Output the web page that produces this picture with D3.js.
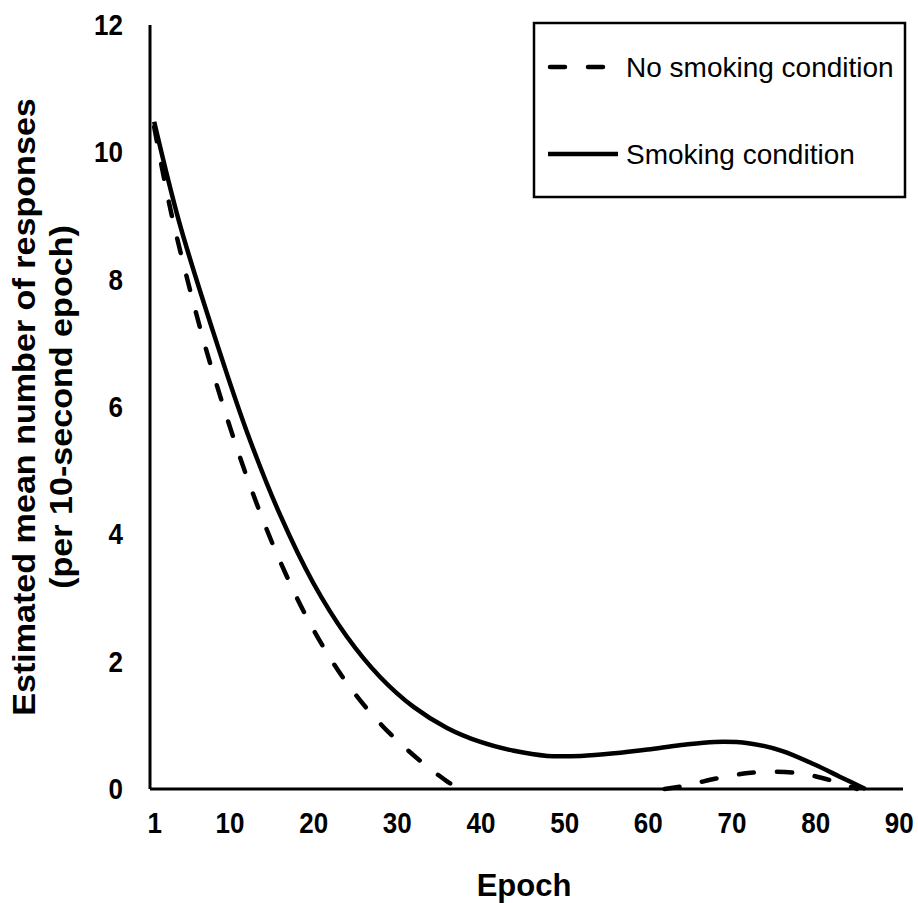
<!DOCTYPE html>
<html lang="en">
<head>
<meta charset="UTF-8">
<title>Epoch chart</title>
<script src="https://cdn.jsdelivr.net/npm/d3@7"></script>
<style>
body{margin:0;background:#fff}
text{font-family:"Liberation Sans",Arial,sans-serif;fill:#000}
</style>
</head>
<body>
<div id="grafica"></div>
<script>
// values
xTicks=[1,10,20,30,40,50,60,70,80,90]
yTicks=[0,2,4,6,8,10,12]

smokeEpoch=[1,4,8,12,16,20,24,28,32,36,40,44,48,52,56,60,64,68,72,76,80,83,86]
smokeValue=[10.48,8.9,7.2,5.64,4.32,3.24,2.4,1.76,1.29,0.96,0.74,0.6,0.52,0.52,0.56,0.62,0.69,0.74,0.72,0.6,0.38,0.19,0]

// no smoking curve is below zero between ~37 and ~62, so two pieces
noSmokeEpochA=[1,3,6,8,12,16,20,24,28,32,36,37.5]
noSmokeValueA=[10.4,9.07,7.48,6.55,4.93,3.59,2.51,1.67,1.03,0.53,0.12,0]
noSmokeEpochB=[62,64,66,68,70,72,75,78,80,82,84,85]
noSmokeValueB=[0,0.04,0.1,0.16,0.21,0.25,0.27,0.25,0.2,0.13,0.05,0]

legendLabels=['No smoking condition','Smoking condition']

ancho=918
alto=903
svg=d3.select('#grafica')
	.append('svg')
	.attr('width',ancho)
	.attr('height',alto)

x=d3.scaleLinear().domain([0.5,90.5]).range([150,903])
y=d3.scaleLinear().domain([0,12]).range([789,25])

function pares(ex,vals) {
	return ex.map(function(e,i){return [e,vals[i]]})
}

line=d3.line()
	.x(function(d){return x(d[0])})
	.y(function(d){return y(d[1])})
	.curve(d3.curveCatmullRom.alpha(0.5))

// axes, no tick marks
xAxis=d3.axisBottom(x).tickValues(xTicks).tickSize(0).tickPadding(0)
yAxis=d3.axisLeft(y).tickValues(yTicks).tickSize(0).tickPadding(0)

gx=svg.append('g').attr('transform','translate(0,'+y(0)+')').call(xAxis)
gx.select('.domain').attr('d','M'+x(0.5)+',0H'+x(90.5)).attr('stroke','#000').attr('stroke-width',3)
gx.selectAll('text')
	.attr('y',0)
	.attr('dy',null)
	.attr('transform','translate(0,44) scale(1,1.15)')
	.attr('font-size',26)
	.attr('font-weight','bold')
	.attr('font-family','Liberation Sans, Arial, sans-serif')

gy=svg.append('g').attr('transform','translate('+x(0.5)+',0)').call(yAxis)
gy.select('.domain').attr('d','M0,'+y(12)+'V'+y(0)).attr('stroke','#000').attr('stroke-width',3)
gy.selectAll('text')
	.attr('x',-27)
	.attr('dy','0.32em')
	.attr('transform','scale(1,1.15)')
	.attr('font-size',26)
	.attr('font-weight','bold')
	.attr('font-family','Liberation Sans, Arial, sans-serif')

// curves
svg.append('path')
	.datum(pares(smokeEpoch,smokeValue))
	.attr('d',line)
	.attr('fill','none')
	.attr('stroke','#000')
	.attr('stroke-width',4.5)

;[pares(noSmokeEpochA,noSmokeValueA),pares(noSmokeEpochB,noSmokeValueB)].forEach(function(p){
	svg.append('path')
		.datum(p)
		.attr('d',line)
		.attr('fill','none')
		.attr('stroke','#000')
		.attr('stroke-width',4.5)
		.attr('stroke-linecap','round')
		.attr('stroke-dasharray','15,23')
})

// axis titles
svg.append('text')
	.attr('x',524)
	.attr('y',896)
	.attr('text-anchor','middle')
	.attr('font-size',31)
	.attr('font-weight','bold')
	.text('Epoch')

yt=svg.append('text')
	.attr('transform','translate(35,'+((y(0)+y(12))/2)+') rotate(-90) scale(1.1,1)')
	.attr('text-anchor','middle')
	.attr('font-size',31)
	.attr('font-weight','bold')
yt.append('tspan').attr('x',0).attr('y',0).text('Estimated mean number of responses')
yt.append('tspan').attr('x',0).attr('y',37).text('(per 10-second epoch)')

// legend
leg=svg.append('g')
leg.append('rect')
	.attr('x',534).attr('y',23)
	.attr('width',371).attr('height',174)
	.attr('fill','#fff')
	.attr('stroke','#000')
	.attr('stroke-width',2.5)

leg.append('line')
	.attr('x1',550).attr('x2',608).attr('y1',67).attr('y2',67)
	.attr('stroke','#000').attr('stroke-width',4.5)
	.attr('stroke-linecap','round')
	.attr('stroke-dasharray','15,23')
leg.append('line')
	.attr('x1',548).attr('x2',618).attr('y1',154).attr('y2',154)
	.attr('stroke','#000').attr('stroke-width',4.5)

leg.selectAll('text.lab').data(legendLabels).enter()
	.append('text')
	.attr('class','lab')
	.attr('x',626)
	.attr('y',function(d,i){return i==0?76.5:163.5})
	.attr('font-size',28)
	.text(function(d){return d})
</script>
</body>
</html>
